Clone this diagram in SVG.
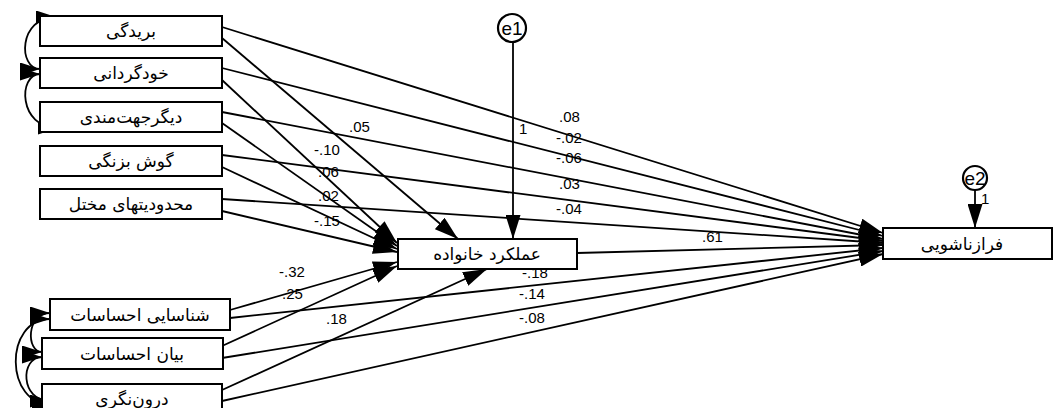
<svg xmlns="http://www.w3.org/2000/svg" width="1055" height="408" viewBox="0 0 1055 408">
<defs>
<style>
.box{fill:#fff;stroke:#000;stroke-width:2}
.lbl{font-family:"DejaVu Sans",sans-serif;font-size:17px;fill:#000;text-anchor:middle}
.num{font-family:"Liberation Sans",Arial,sans-serif;font-size:15px;fill:#000}
.ln{fill:none;stroke:#000;stroke-width:1.8;marker-end:url(#ah)}
.cv{fill:none;stroke:#000;stroke-width:1.8;marker-start:url(#ah2);marker-end:url(#ah2)}
.err{fill:#fff;stroke:#000;stroke-width:2.2}
.et{font-family:"Liberation Sans",Arial,sans-serif;font-size:19px;fill:#000;text-anchor:middle}
</style>
<marker id="ah" markerUnits="userSpaceOnUse" markerWidth="24" markerHeight="15" refX="24" refY="7.5" orient="auto">
<path d="M0,0 L24,7.5 L0,15 z" fill="#000"/>
</marker>
<marker id="ah2" markerUnits="userSpaceOnUse" markerWidth="20" markerHeight="13" refX="20" refY="6.5" orient="auto-start-reverse">
<path d="M0,0 L20,6.5 L0,13 z" fill="#000"/>
</marker>
</defs>
<rect width="1055" height="408" fill="#fff"/>

<g id="connectors">
<line class="ln" x1="222" y1="38" x2="458" y2="239"/>
<line class="ln" x1="222" y1="80" x2="397" y2="243"/>
<line class="ln" x1="222" y1="123" x2="397" y2="246"/>
<line class="ln" x1="222" y1="167" x2="397" y2="249"/>
<line class="ln" x1="222" y1="211" x2="397" y2="252"/>
<line class="ln" x1="230" y1="310" x2="397" y2="262"/>
<line class="ln" x1="222" y1="346" x2="397" y2="266"/>
<line class="ln" x1="222" y1="390" x2="487" y2="269"/>
<line class="ln" x1="513" y1="42" x2="513" y2="239"/>
<line class="ln" x1="222" y1="27" x2="883" y2="233"/>
<line class="ln" x1="222" y1="68" x2="883" y2="236"/>
<line class="ln" x1="222" y1="112" x2="883" y2="239"/>
<line class="ln" x1="222" y1="155" x2="883" y2="241"/>
<line class="ln" x1="222" y1="199" x2="883" y2="243"/>
<line class="ln" x1="577" y1="253" x2="883" y2="245"/>
<line class="ln" x1="230" y1="318" x2="883" y2="248"/>
<line class="ln" x1="222" y1="358" x2="883" y2="251"/>
<line class="ln" x1="222" y1="401" x2="883" y2="254"/>
<line class="ln" x1="975" y1="190" x2="975" y2="228"/>
<path class="cv" d="M40,69 C18,69 18,17 56,17"/>
<path class="cv" d="M40,74 C18,74 18,128 58,128"/>
<path class="cv" d="M50,313 C26,313 26,352 42,352"/>
<path class="cv" d="M42,357 C20,357 20,401 50,401"/>
<path class="cv" d="M50,319 C4,319 4,405 52,405"/>
</g>

<g id="n1"><rect class="box" x="40" y="16" width="182" height="30"/><text class="lbl" x="131" y="37">بریدگی</text></g>
<g id="n2"><rect class="box" x="40" y="58" width="182" height="30"/><text class="lbl" x="131" y="79">خودگردانی</text></g>
<g id="n3"><rect class="box" x="40" y="102" width="182" height="30"/><text class="lbl" x="131" y="123">دیگرجهت‌مندی</text></g>
<g id="n4"><rect class="box" x="40" y="146" width="182" height="30"/><text class="lbl" x="131" y="167">گوش بزنگی</text></g>
<g id="n5"><rect class="box" x="40" y="189" width="182" height="30"/><text class="lbl" x="131" y="210">محدودیتهای مختل</text></g>
<g id="n6"><rect class="box" x="50" y="299" width="180" height="31"/><text class="lbl" x="140" y="321">شناسایی احساسات</text></g>
<g id="n7"><rect class="box" x="42" y="338" width="181" height="31"/><text class="lbl" x="132" y="360">بیان احساسات</text></g>
<g id="n8"><rect class="box" x="42" y="384" width="180" height="31"/><text class="lbl" x="132" y="405">درون‌نگری</text></g>
<g id="m"><rect class="box" x="398" y="239" width="179" height="30"/><text class="lbl" x="487" y="260">عملکرد خانواده</text></g>
<g id="r"><rect class="box" x="883" y="228" width="169" height="31"/><text class="lbl" x="962" y="250">فرازناشویی</text></g>
<g id="e1"><circle class="err" cx="512" cy="28" r="14"/><text class="et" x="512" y="35">e1</text></g>
<g id="e2"><circle class="err" cx="975" cy="178" r="12"/><text class="et" x="975" y="185">e2</text></g>

<g id="labels">
<text class="num" x="349" y="132">.05</text>
<text class="num" x="314" y="155">-.10</text>
<text class="num" x="318" y="177">.06</text>
<text class="num" x="318" y="201">.02</text>
<text class="num" x="314" y="226">-.15</text>
<text class="num" x="279" y="277">-.32</text>
<text class="num" x="282" y="299">.25</text>
<text class="num" x="326" y="324">.18</text>
<text class="num" x="519" y="134">1</text>
<text class="num" x="559" y="122">.08</text>
<text class="num" x="556" y="143">-.02</text>
<text class="num" x="556" y="163">-.06</text>
<text class="num" x="559" y="189">.03</text>
<text class="num" x="556" y="214">-.04</text>
<text class="num" x="702" y="242">.61</text>
<text class="num" x="522" y="278">-.18</text>
<text class="num" x="519" y="299">-.14</text>
<text class="num" x="519" y="323">-.08</text>
<text class="num" x="981" y="204">1</text>
</g>
</svg>
